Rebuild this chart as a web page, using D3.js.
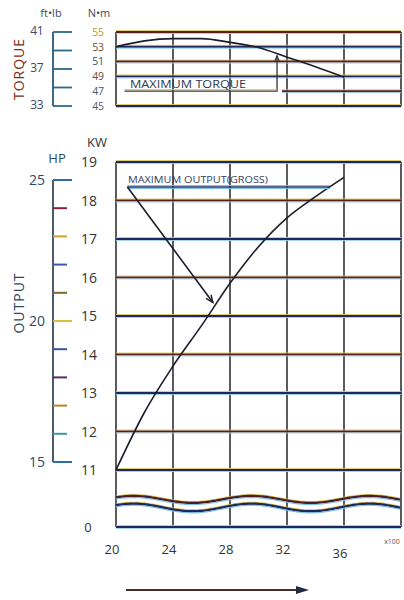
<!DOCTYPE html>
<html>
<head>
<meta charset="utf-8">
<script src="https://cdn.jsdelivr.net/npm/d3@7"></script>
<style>
  body { margin: 0; background: #fff; }
  svg { display: block; font-family: "Open Sans", "Noto Sans", sans-serif; }
</style>
</head>
<body>
<div id="chart"></div>
<script>
// engine speed, x100 rpm
const rpmTicks = [20, 24, 28, 32, 36];
const rpmGrid = [20, 24, 28, 32, 36, 40];

// torque panel
const nmTicks = [55, 53, 51, 49, 47, 45];
const ftlbTicks = [41, 39, 37, 35, 33];
const ftlbLabels = [41, 37, 33];
const torqueRpm = [20, 22, 24, 26, 28, 30, 32, 34, 36];
const torqueNm = [53.0, 53.8, 54.1, 54.1, 53.6, 52.9, 51.6, 50.3, 48.9];

// output panel
const kwTicks = [19, 18, 17, 16, 15, 14, 13, 12, 11];
const hpTicks = [25, 24, 23, 22, 21, 20, 19, 18, 17, 16, 15];
const hpLabels = [25, 20, 15];
const outputRpm = [20, 22, 24, 26, 28, 30, 32, 34, 36];
const outputKw = [11.0, 12.5, 13.7, 14.75, 15.85, 16.8, 17.55, 18.1, 18.6];

// annotations
const maxTorqueRpm = 31.3;
const maxTorqueLabelNm = 47;
const maxOutputKw = 18.35;
const maxOutputArrowTip = [26.8, 15.35];

const width = 404, height = 600;
const svg = d3.select('#chart').append('svg')
  .attr('width', width).attr('height', height)
  .attr('viewBox', `0 0 ${width} ${height}`);

const x = d3.scaleLinear().domain([20, 40]).range([116, 401]);
const yNm = d3.scaleLinear().domain([45, 55]).range([106, 32]);
const yFt = d3.scaleLinear().domain([33, 41]).range([106, 32]);
const yKw = d3.scaleLinear().domain([11, 19]).range([470, 162]);
const yHp = d3.scaleLinear().domain([15, 25]).range([462, 180]);
const zeroY = 527;

const darkCols = ['#5e1c1c', '#1c2860'];
const hpCols = ['#2d6fa0', '#8a2040', '#d0a030', '#3a5ab0', '#7a6a30', '#d8c040', '#3a50a0', '#5a2a6a', '#c08030', '#3a9aa0', '#2d6fa0'];

// scanned-looking horizontal rule: yellow above, dark middle, cyan below
function rule(g, x1, x2, y, i) {
  g.append('line').attr('x1', x1).attr('x2', x2).attr('y1', y - 1.5).attr('y2', y - 1.5)
    .attr('stroke', '#dcc860').attr('stroke-width', 0.9);
  g.append('line').attr('x1', x1).attr('x2', x2).attr('y1', y).attr('y2', y)
    .attr('stroke', darkCols[i % 2]).attr('stroke-width', 2);
  g.append('line').attr('x1', x1).attr('x2', x2).attr('y1', y + 1.5).attr('y2', y + 1.5)
    .attr('stroke', '#9ccfe0').attr('stroke-width', 0.9);
}

// ---------- TORQUE panel ----------
const tq = svg.append('g');

tq.selectAll('.vgrid').data(rpmGrid).enter().append('line')
  .attr('x1', d => x(d)).attr('x2', d => x(d))
  .attr('y1', yNm(55)).attr('y2', yNm(45))
  .attr('stroke', '#4a4a4a').attr('stroke-width', 1.8);

nmTicks.forEach((d, i) => {
  const x1 = d === maxTorqueLabelNm ? x(maxTorqueRpm) + 5 : x(20);
  rule(tq, x1, x(40), yNm(d), i);
});

tq.append('path')
  .datum(torqueRpm.map((r, i) => [r, torqueNm[i]]))
  .attr('d', d3.line().x(d => x(d[0])).y(d => yNm(d[1])).curve(d3.curveMonotoneX))
  .attr('fill', 'none').attr('stroke', '#1c1c2a').attr('stroke-width', 1.6);

// max torque leader
const tqAt = d3.scaleLinear().domain(torqueRpm).range(torqueNm)(maxTorqueRpm);
tq.append('path')
  .attr('d', `M${x(20.6)},${yNm(maxTorqueLabelNm)} H${x(maxTorqueRpm)} V${yNm(tqAt) + 2}`)
  .attr('fill', 'none').attr('stroke', '#333').attr('stroke-width', 1.3);
tq.append('line')
  .attr('x1', x(20.6)).attr('x2', x(maxTorqueRpm))
  .attr('y1', yNm(maxTorqueLabelNm) - 1.5).attr('y2', yNm(maxTorqueLabelNm) - 1.5)
  .attr('stroke', '#d8c050').attr('stroke-width', 1);
tq.append('path')
  .attr('d', `M${x(maxTorqueRpm) - 2.5},${yNm(tqAt) + 8} L${x(maxTorqueRpm)},${yNm(tqAt) + 2} L${x(maxTorqueRpm) + 2.5},${yNm(tqAt) + 8}`)
  .attr('fill', 'none').attr('stroke', '#333').attr('stroke-width', 1.2);
tq.append('text')
  .attr('x', 130).attr('y', yNm(maxTorqueLabelNm) - 3)
  .attr('textLength', 116).attr('lengthAdjust', 'spacingAndGlyphs')
  .attr('font-size', 11).attr('fill', '#2e3a50')
  .text('MAXIMUM TORQUE');

// N·m labels
const nmCols = ['#b09a30', '#7a4a30', '#3a5070', '#6a4a40', '#4a5a70', '#4a5a70'];
tq.selectAll('.nm').data(nmTicks).enter().append('text')
  .attr('x', 98).attr('y', d => yNm(d)).attr('dy', '0.36em')
  .attr('text-anchor', 'middle').attr('font-size', 10.5).attr('letter-spacing', -0.3)
  .attr('fill', (d, i) => nmCols[i])
  .text(d => d);

// ft·lb bracket
tq.append('line').attr('x1', 53).attr('x2', 53).attr('y1', yFt(41)).attr('y2', yFt(33))
  .attr('stroke', '#2a5a7a').attr('stroke-width', 1.8);
tq.selectAll('.ft').data(ftlbTicks).enter().append('line')
  .attr('x1', 53).attr('x2', 72).attr('y1', d => yFt(d)).attr('y2', d => yFt(d))
  .attr('stroke', '#2a6a8a').attr('stroke-width', 1.8);
tq.selectAll('.ftl').data(ftlbLabels).enter().append('text')
  .attr('x', 43).attr('y', d => yFt(d) - 1).attr('dy', '0.36em')
  .attr('text-anchor', 'end').attr('font-size', 12).attr('letter-spacing', -0.5)
  .attr('fill', '#3a4a60').text(d => d);

tq.append('text').attr('x', 51).attr('y', 17).attr('text-anchor', 'middle')
  .attr('font-size', 11).attr('fill', '#3a4a5a').text('ft•lb');
tq.append('text').attr('x', 99).attr('y', 17).attr('text-anchor', 'middle')
  .attr('font-size', 11).attr('fill', '#3a4a5a').text('N•m');
tq.append('text')
  .attr('transform', `translate(24,${yNm(50)}) rotate(-90)`)
  .attr('text-anchor', 'middle').attr('font-size', 14).attr('letter-spacing', 1)
  .attr('fill', '#7a3020').text('TORQUE');

// ---------- OUTPUT panel ----------
const op = svg.append('g');

op.selectAll('.vgrid').data(rpmGrid).enter().append('line')
  .attr('x1', d => x(d)).attr('x2', d => x(d))
  .attr('y1', yKw(19)).attr('y2', zeroY)
  .attr('stroke', '#4a4a4a').attr('stroke-width', 1.8);

kwTicks.forEach((d, i) => rule(op, x(20), x(40), yKw(d), i + 1));
rule(op, x(20), x(40), zeroY, 1);

// axis break wave
const wave = (c, a) => d3.range(x(20), x(40) + 1, 2).map(px => [px, c - a * Math.sin((px - 104) / 118 * 2 * Math.PI)]);
const waveLine = d3.line();
[[499.5, 3.5], [507.5, 3.8]].forEach(([c, a], i) => {
  op.append('path').attr('d', waveLine(wave(c - 1.4, a))).attr('fill', 'none')
    .attr('stroke', '#d8c050').attr('stroke-width', 1.1);
  op.append('path').attr('d', waveLine(wave(c, a))).attr('fill', 'none')
    .attr('stroke', i ? '#1c2860' : '#4a1c28').attr('stroke-width', 2.4);
  op.append('path').attr('d', waveLine(wave(c + 1.6, a))).attr('fill', 'none')
    .attr('stroke', '#80c0dc').attr('stroke-width', 1.1);
});

// output curve
op.append('path')
  .datum(outputRpm.map((r, i) => [r, outputKw[i]]))
  .attr('d', d3.line().x(d => x(d[0])).y(d => yKw(d[1])).curve(d3.curveMonotoneX))
  .attr('fill', 'none').attr('stroke', '#1c1c2a').attr('stroke-width', 1.6);

// max output annotation
const rpmAtMax = d3.scaleLinear().domain(outputKw).range(outputRpm)(maxOutputKw);
op.append('line')
  .attr('x1', x(20.8)).attr('x2', x(rpmAtMax))
  .attr('y1', yKw(maxOutputKw) - 1.5).attr('y2', yKw(maxOutputKw) - 1.5)
  .attr('stroke', '#d8b050').attr('stroke-width', 1);
op.append('line')
  .attr('x1', x(20.8)).attr('x2', x(rpmAtMax))
  .attr('y1', yKw(maxOutputKw)).attr('y2', yKw(maxOutputKw))
  .attr('stroke', '#22306e').attr('stroke-width', 1.4);
op.append('line')
  .attr('x1', x(20.8)).attr('x2', x(rpmAtMax))
  .attr('y1', yKw(maxOutputKw) + 1.5).attr('y2', yKw(maxOutputKw) + 1.5)
  .attr('stroke', '#7ac0e0').attr('stroke-width', 1);
const tip = [x(maxOutputArrowTip[0]), yKw(maxOutputArrowTip[1])];
const start = [x(20.8), yKw(maxOutputKw)];
op.append('line')
  .attr('x1', start[0]).attr('y1', start[1]).attr('x2', tip[0]).attr('y2', tip[1])
  .attr('stroke', '#1c1c2a').attr('stroke-width', 1.6);
const ang = Math.atan2(tip[1] - start[1], tip[0] - start[0]);
const ah = (s) => [tip[0] - 8 * Math.cos(ang + s), tip[1] - 8 * Math.sin(ang + s)];
op.append('path')
  .attr('d', `M${ah(0.4)} L${tip} L${ah(-0.4)}`)
  .attr('fill', 'none').attr('stroke', '#1c1c2a').attr('stroke-width', 1.4);
op.append('text')
  .attr('x', 128).attr('y', yKw(maxOutputKw) - 4)
  .attr('textLength', 140).attr('lengthAdjust', 'spacingAndGlyphs')
  .attr('font-size', 9).attr('fill', '#3a4060')
  .text('MAXIMUM OUTPUT(GROSS)');

// KW labels
op.selectAll('.kw').data(kwTicks).enter().append('text')
  .attr('x', 89).attr('y', d => yKw(d)).attr('dy', '0.36em')
  .attr('text-anchor', 'middle').attr('font-size', 14).attr('fill', '#333')
  .text(d => d);
op.append('text').attr('x', 88).attr('y', zeroY).attr('dy', '0.36em')
  .attr('text-anchor', 'middle').attr('font-size', 13).attr('fill', '#333').text('0');
op.append('text').attr('x', 97).attr('y', 147).attr('text-anchor', 'middle')
  .attr('font-size', 13).attr('fill', '#333').text('KW');

// HP bracket
op.append('line').attr('x1', 53).attr('x2', 53).attr('y1', yHp(25)).attr('y2', yHp(15))
  .attr('stroke', '#3a4a5a').attr('stroke-width', 1.8);
op.selectAll('.hp').data(hpTicks).enter().append('line')
  .attr('x1', 53).attr('x2', d => hpLabels.includes(d) ? 72 : 67)
  .attr('y1', d => yHp(d)).attr('y2', d => yHp(d))
  .attr('stroke', (d, i) => hpCols[i]).attr('stroke-width', 2);
op.selectAll('.hpl').data(hpLabels).enter().append('text')
  .attr('x', 45).attr('y', d => yHp(d)).attr('dy', '0.36em')
  .attr('text-anchor', 'end').attr('font-size', 14).attr('fill', '#2e4a60')
  .text(d => d);
op.append('text').attr('x', 57).attr('y', 163).attr('text-anchor', 'middle')
  .attr('font-size', 13).attr('fill', '#2e4a60').text('HP');
op.append('text')
  .attr('transform', `translate(24,${yHp(20) - 18}) rotate(-90)`)
  .attr('text-anchor', 'middle').attr('font-size', 14).attr('letter-spacing', 1)
  .attr('fill', '#2e4a5a').text('OUTPUT');

// rpm labels
svg.selectAll('.rpm').data(rpmTicks).enter().append('text')
  .attr('x', d => x(d) - 4).attr('y', d => d === 36 ? 553 : 549).attr('dy', '0.36em')
  .attr('text-anchor', 'middle').attr('font-size', 13).attr('fill', '#333')
  .text(d => d);
svg.append('text').attr('x', 392).attr('y', 544).attr('text-anchor', 'middle')
  .attr('font-size', 7).attr('fill', '#555').text('x100');

// direction arrow
svg.append('line').attr('x1', 126).attr('x2', 300).attr('y1', 590).attr('y2', 590)
  .attr('stroke', '#4a2a2a').attr('stroke-width', 2);
svg.append('path').attr('d', 'M296,586 L309,590 L296,594 Z').attr('fill', '#222a40');
</script>
</body>
</html>
